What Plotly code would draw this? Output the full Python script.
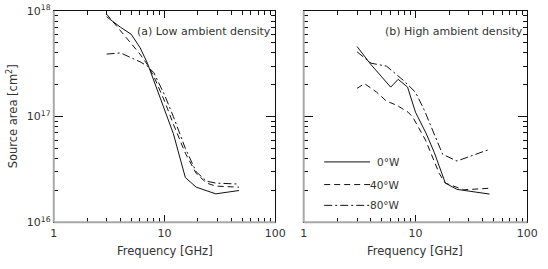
import plotly.graph_objects as go

# ---------------- data ----------------
series_names = ["0°W", "40°W", "80°W"]

# (a) Low ambient density
freq_a_0 = [3, 4, 5, 6, 7, 8, 10, 12, 15.4, 19.3, 29, 47]
area_a_0 = [8.8e17, 7.0e17, 6.0e17, 4.5e17, 3.2e17, 2.2e17, 1.2e17, 6.9e16, 2.65e16, 2.15e16, 1.86e16, 2.0e16]
freq_a_40 = [3, 4, 5, 6, 7, 8, 10, 12, 15.4, 19.3, 24, 29, 47]
area_a_40 = [9.3e17, 6.5e17, 5.0e17, 3.9e17, 3.1e17, 2.4e17, 1.4e17, 8.5e16, 4.5e16, 2.9e16, 2.35e16, 2.2e16, 2.15e16]
freq_a_80 = [3, 4, 5, 6, 7, 8, 10, 12, 15.4, 19.3, 24, 29, 47]
area_a_80 = [3.9e17, 4.0e17, 3.6e17, 3.3e17, 3.0e17, 2.6e17, 1.6e17, 1.0e17, 5.0e16, 3.0e16, 2.45e16, 2.35e16, 2.3e16]

# (b) High ambient density
freq_b_0 = [3, 4, 6, 7, 8.5, 10, 12.4, 14.7, 18.5, 23.5, 46]
area_b_0 = [4.6e17, 3.1e17, 1.9e17, 2.25e17, 1.9e17, 1.1e17, 7.0e16, 4.6e16, 2.35e16, 2.05e16, 1.85e16]
freq_b_40 = [3, 3.5, 4.5, 5.5, 6.8, 8.6, 9.5, 12.3, 16.3, 18.5, 27, 46]
area_b_40 = [1.85e17, 2.05e17, 1.7e17, 1.4e17, 1.28e17, 1.1e17, 9.8e16, 6.0e16, 2.9e16, 2.35e16, 2.03e16, 2.1e16]
freq_b_80 = [3, 4, 5.5, 7.8, 10, 12, 15, 17.5, 23.5, 46]
area_b_80 = [4.1e17, 3.2e17, 3.0e17, 2.2e17, 1.7e17, 1.15e17, 6.5e16, 4.4e16, 3.8e16, 4.9e16]

panel_titles = ["(a) Low ambient density", "(b) High ambient density"]
x_tickvals = [1, 10, 100]
x_ticktext = ["1", "10", "100"]
y_tickvals = [1e16, 1e17, 1e18]
y_ticktext = ["10<sup>16</sup>", "10<sup>17</sup>", "10<sup>18</sup>"]
x_title = "Frequency [GHz]"
y_title = "Source area [cm<sup>2</sup>]"

# ---------------- styling ----------------
W, H = 548, 269
FONT = "DejaVu Sans"
TXT = "#333333"
dashes = ["solid", "6px,4px", "8px,3px,2px,3px"]
EPS = 1e-4

def px(x):
    return x / W

def py(y):
    return 1 - y / H

fig = go.Figure()

panels = [
    ("x", "y", [(freq_a_0, area_a_0), (freq_a_40, area_a_40), (freq_a_80, area_a_80)]),
    ("x2", "y2", [(freq_b_0, area_b_0), (freq_b_40, area_b_40), (freq_b_80, area_b_80)]),
]
for xa, ya, data in panels:
    for (f, a), name, d in zip(data, series_names, dashes):
        fig.add_trace(go.Scatter(x=f, y=a, mode="lines", name=name, xaxis=xa, yaxis=ya,
                                 line=dict(color="#111111", width=1, dash=d),
                                 showlegend=False, hoverinfo="skip"))

minor_vals_x = [m * 10 ** k for k in range(0, 2) for m in range(2, 10)]
minor_vals_y = [m * 10 ** k for k in range(16, 18) for m in range(2, 10)]

def xaxis(domain):
    return dict(type="log", domain=domain, range=[0 - EPS, 2 + EPS], showgrid=False, zeroline=False,
                showline=True, linecolor="#111111", linewidth=1, mirror="ticks",
                ticks="inside", ticklen=7, tickcolor="#111111", tickwidth=1,
                tickvals=x_tickvals, ticktext=x_ticktext, ticklabeloverflow="allow",
                tickfont=dict(family=FONT, size=11, color=TXT),
                minor=dict(ticks="inside", ticklen=4, tickcolor="#111111", tickvals=minor_vals_x, showgrid=False))

def yaxis(domain, anchor, labels):
    return dict(type="log", domain=domain, range=[16 - EPS, 18 + EPS], anchor=anchor, showgrid=False, zeroline=False,
                showline=True, linecolor="#111111", linewidth=1, mirror="ticks",
                ticks="inside", ticklen=9, tickcolor="#111111", tickwidth=1,
                tickvals=y_tickvals, ticktext=y_ticktext, showticklabels=labels, ticklabeloverflow="allow",
                tickfont=dict(family=FONT, size=11, color=TXT),
                minor=dict(ticks="inside", ticklen=4, tickcolor="#111111", tickvals=minor_vals_y, showgrid=False))

ydom = [py(227), py(3)]
xdom1 = [px(52), px(279)]
xdom2 = [px(308), px(537)]

fig.update_layout(
    width=W, height=H, margin=dict(l=0, r=0, t=0, b=0),
    paper_bgcolor="white", plot_bgcolor="white", showlegend=False,
    xaxis=dict(xaxis(xdom1), anchor="y"), yaxis=yaxis(ydom, "x", True),
    xaxis2=dict(xaxis(xdom2), anchor="y2"), yaxis2=yaxis(ydom, "x2", False),
)

# gray left/bottom axis lines (IDL look)
for x0, x1 in [(52, 279), (308, 537)]:
    fig.add_shape(type="line", xref="paper", yref="paper", x0=px(x0), x1=px(x1), y0=py(227), y1=py(227),
                  line=dict(color="#a8a8a8", width=2), layer="above")
    fig.add_shape(type="line", xref="paper", yref="paper", x0=px(x0), x1=px(x0), y0=py(227), y1=py(3),
                  line=dict(color="#a8a8a8", width=2), layer="above")

# panel titles
fig.add_annotation(x=px(277), y=py(25), xref="paper", yref="paper", text=panel_titles[0], showarrow=False,
                   xanchor="right", yanchor="middle", font=dict(family=FONT, size=11, color=TXT))
fig.add_annotation(x=px(535), y=py(25), xref="paper", yref="paper", text=panel_titles[1], showarrow=False,
                   xanchor="right", yanchor="middle", font=dict(family=FONT, size=11, color=TXT))

# axis titles
for cx in [(52 + 279) / 2, (308 + 537) / 2]:
    fig.add_annotation(x=px(cx), y=py(257), xref="paper", yref="paper", text=x_title, showarrow=False,
                       xanchor="center", yanchor="middle", font=dict(family=FONT, size=11.5, color=TXT))
fig.add_annotation(x=px(10), y=py(115), xref="paper", yref="paper", text=y_title, showarrow=False,
                   textangle=-90, xanchor="center", yanchor="middle", font=dict(family=FONT, size=11.5, color=TXT))

# legend in panel (b)
for i, (name, d) in enumerate(zip(series_names, dashes)):
    yy = [163, 187, 209][i]
    fig.add_shape(type="line", xref="paper", yref="paper", x0=px(329), x1=px(376), y0=py(yy), y1=py(yy),
                  line=dict(color="#111111", width=1, dash=d))
    fig.add_annotation(x=px(409), y=py(yy), xref="paper", yref="paper", text=name, showarrow=False,
                       xanchor="right", yanchor="middle", font=dict(family=FONT, size=10.5, color=TXT))

fig.write_html("out.html", config={"displayModeBar": False},
               post_script="document.body.style.margin='0';document.body.style.overflow='hidden';")
